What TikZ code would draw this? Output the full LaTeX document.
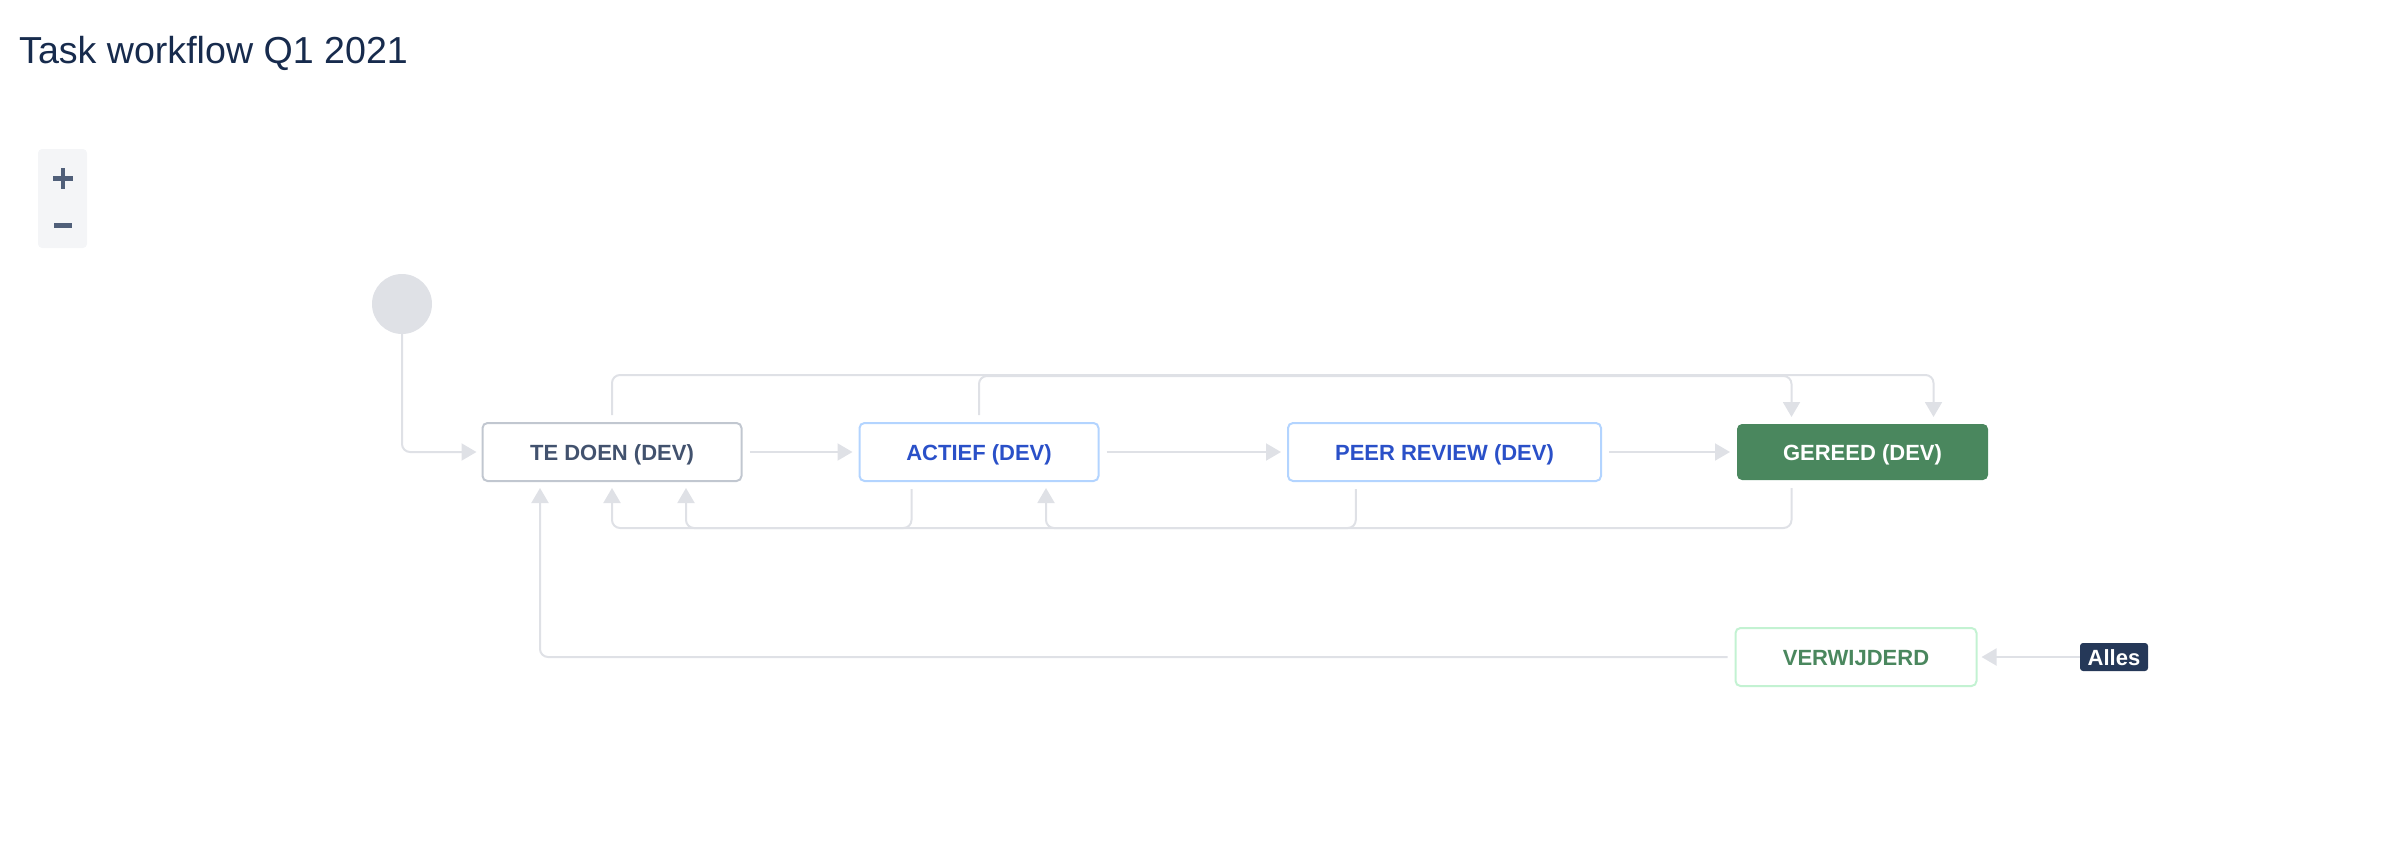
\documentclass[tikz,border=0pt]{standalone}
\usepackage{fontspec}
\setmainfont{Liberation Sans}
\usepackage{xcolor}
\usetikzlibrary{arrows.meta}

\definecolor{lijngrijs}{HTML}{DFE1E6}
\definecolor{randgrijs}{HTML}{C1C7D0}
\definecolor{tekstgrijs}{HTML}{42526E}
\definecolor{randblauw}{HTML}{B3D4FF}
\definecolor{tekstblauw}{HTML}{2A50C8}
\definecolor{groen}{HTML}{4A875E}
\definecolor{randgroen}{HTML}{C3F2D2}
\definecolor{donkerblauw}{HTML}{253858}
\definecolor{titelkleur}{HTML}{172B4D}
\definecolor{zoomvlak}{HTML}{F4F5F7}
\definecolor{zoomteken}{HTML}{505F79}

\tikzset{
  statebox/.style={rounded corners=5pt, line width=2pt, minimum height=58pt,
    inner sep=0pt, text height=16pt, text depth=0pt,
    font=\bfseries\fontsize{22}{26}\selectfont},
  flow/.style={draw=lijngrijs, line width=2pt, rounded corners=8pt,
    -{Triangle[length=15pt,width=17pt]}, shorten <=7pt, shorten >=6pt}
}

\begin{document}
\begin{tikzpicture}[x=1pt,y=-1pt]
  \pgfmathsetmacro{\rijY}{452}
  \pgfmathsetmacro{\onderY}{657}
  \useasboundingbox (0,0) rectangle (2400,856);

  % Titel
  \node[anchor=base west, inner sep=0pt, text=titelkleur,
        font=\fontsize{37.6}{44}\selectfont] (titel) at (19,64) {Task workflow Q1 2021};

  % Zoomknoppen
  \fill[zoomvlak, rounded corners=4pt] (38,149) rectangle (87,248);
  \draw[zoomteken, line width=4.5pt] (53,178.5) -- (73,178.5) (63,168) -- (63,189);
  \draw[zoomteken, line width=4.5pt] (54,225.5) -- (72,225.5);

  % Toestanden
  \node[circle, fill=lijngrijs, minimum size=60pt, inner sep=0pt] (start) at (402,304) {};
  \node[statebox, draw=randgrijs, text=tekstgrijs, minimum width=259pt] (tedoen) at (612,\rijY) {TE DOEN (DEV)};
  \node[statebox, draw=randblauw, text=tekstblauw, minimum width=239pt] (actief) at (979,\rijY) {ACTIEF (DEV)};
  \node[statebox, draw=randblauw, text=tekstblauw, minimum width=313pt] (review) at (1444.5,\rijY) {PEER REVIEW (DEV)};
  \node[statebox, fill=groen, text=white, minimum width=251pt, minimum height=56pt] (gereed) at (1862.5,\rijY) {GEREED (DEV)};
  \node[statebox, draw=randgroen, text=groen, minimum width=241pt] (verwijderd) at (1856,\onderY) {VERWIJDERD};
  \node[fill=donkerblauw, text=white, rounded corners=3pt, minimum width=68pt, minimum height=28pt,
        inner sep=0pt, text height=16pt, text depth=0pt,
        font=\bfseries\fontsize{22}{26}\selectfont] (alles) at (2114,\onderY) {Alles};

  % Begin
  \draw[flow, shorten <=0pt, shorten >=5pt] (start.south) |- (tedoen.west);

  % Vooruit
  \draw[flow] (tedoen.east) -- (actief.west);
  \draw[flow] (actief.east) -- (review.west);
  \draw[flow] (review.east) -- (gereed.west);

  % Bovenlangs naar gereed
  \draw[flow] (tedoen.north) -- ++(0,-47) -| ([xshift=71pt]gereed.north);
  \draw[flow] (actief.north) -- ++(0,-46) -| ([xshift=-71pt]gereed.north);

  % Onderlangs terug
  \draw[flow] ([xshift=-71pt]gereed.south) -- ++(0,47) -| (tedoen.south);
  \draw[flow] ([xshift=-67.5pt]actief.south) -- ++(0,46) -| ([xshift=74pt]tedoen.south);
  \draw[flow] ([xshift=-88.7pt]review.south) -- ++(0,46) -| ([xshift=67pt]actief.south);

  % Verwijderd
  \draw[flow] (verwijderd.west) -| ([xshift=-72pt]tedoen.south);
  \draw[flow, shorten <=0pt, shorten >=4pt] (alles.west) -- (verwijderd.east);
\end{tikzpicture}
\end{document}
